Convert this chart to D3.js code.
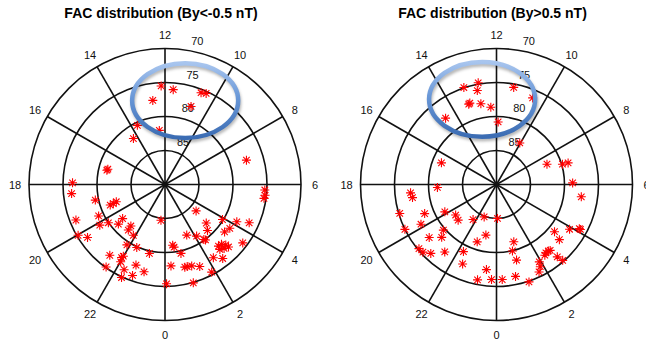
<!DOCTYPE html>
<html>
<head>
<meta charset="utf-8">
<script src="https://cdn.jsdelivr.net/npm/d3@7"></script>
<style>
  body { margin: 0; background: #fff; }
  svg { display: block; font-family: "Liberation Sans", Arial, sans-serif; }
</style>
</head>
<body>
<div id="chart"></div>
<script>
// panel titles
const titles = ["FAC distribution (By<-0.5 nT)", "FAC distribution (By>0.5 nT)"];

// grid: magnetic local time spokes and latitude rings
const hourTicks = [0, 2, 4, 6, 8, 10, 12, 14, 16, 18, 20, 22];
const latRings = [85, 80, 75, 70];

// FAC events [MLT, MLAT] for By < -0.5 nT
const byNegPoints = [
  [12.15, 75.5], [11.67, 76.0], [10.57, 75.5], [10.38, 75.3], [12.55, 77.5], [10.77, 77.9],
  [13.67, 80.4], [12.4, 82.0], [14.3, 81.8], [17.08, 81.2], [17.0, 81.3], [7.11, 77.5],
  [17.93, 76.4], [18.37, 76.2], [5.79, 75.3], [5.59, 75.2], [5.47, 75.3],
  [18.84, 79.5], [19.37, 81.4], [19.35, 81.9], [19.3, 82.4], [19.45, 75.9], [19.69, 79.2],
  [20.13, 78.7], [20.27, 79.95], [20.69, 81.0], [20.59, 82.0], [21.41, 81.4], [21.87, 81.2],
  [21.37, 82.1], [20.02, 75.2], [20.29, 76.2], [21.85, 79.5], [22.39, 79.85], [23.15, 79.6],
  [21.47, 76.8], [21.95, 77.5], [21.99, 77.8], [22.01, 76.9], [21.63, 75.1], [22.29, 76.1],
  [22.68, 77.4], [23.1, 76.8], [22.69, 75.8], [22.33, 74.9],
  [23.57, 84.7], [0.06, 75.4], [3.31, 84.0], [0.48, 81.0], [0.55, 80.7], [0.87, 79.6],
  [0.28, 78.0], [0.9, 77.5], [1.01, 77.5], [1.21, 77.4], [1.53, 76.9], [1.07, 74.95],
  [1.87, 75.4], [2.23, 77.1], [2.53, 76.2], [1.55, 81.9], [2.1, 81.1], [2.35, 80.1],
  [2.41, 79.9], [3.13, 81.7], [2.85, 80.8], [3.91, 80.1], [3.43, 78.8], [3.73, 78.5],
  [4.17, 78.1], [4.37, 76.4], [3.54, 75.7],
  [2.73, 78.0], [2.89, 77.9], [3.01, 77.4], [2.68, 77.5], [2.85, 77.2], [3.03, 76.9]
];

// FAC events [MLT, MLAT] for By > 0.5 nT
const byPosPoints = [
  [12.68, 74.8], [13.24, 74.95], [12.77, 75.9], [11.33, 75.5], [10.49, 76.2], [13.21, 77.4],
  [13.27, 77.5], [12.73, 77.9], [12.28, 78.6], [14.5, 77.7], [11.9, 80.8], [10.05, 83.0],
  [16.57, 81.3], [7.46, 82.0], [7.14, 79.85], [7.12, 79.0], [6.08, 78.8], [5.45, 77.4],
  [18.19, 81.3], [18.37, 77.3], [18.59, 77.5], [19.11, 75.15], [19.47, 78.6], [19.85, 77.45],
  [19.86, 81.4], [20.45, 82.5], [20.86, 82.3], [21.75, 83.8], [22.61, 84.9], [0.11, 85.0],
  [19.74, 75.0], [20.71, 79.7], [20.55, 77.4], [20.93, 78.8], [23.21, 82.4], [22.76, 81.1],
  [20.64, 75.2], [20.84, 75.3], [21.09, 76.0], [21.5, 77.5], [22.25, 79.0], [22.46, 77.3],
  [23.55, 77.4], [23.25, 75.7], [23.8, 76.0], [0.23, 76.0], [0.78, 76.2], [1.23, 74.9],
  [1.12, 81.2], [0.9, 79.95], [0.99, 78.5], [1.93, 77.0], [1.87, 76.3], [1.73, 75.7],
  [2.39, 77.6], [2.53, 77.6], [2.61, 77.5], [2.29, 77.4], [3.39, 79.0], [3.25, 77.7],
  [2.67, 76.1], [2.74, 75.2], [3.9, 77.4], [4.13, 76.2], [4.12, 76.0]
];

// highlighted region [MLT, MLAT] of ellipse centre, with half widths in degrees
const highlights = [
  {mlt: 11.1, lat: 77.3, rx: 7.8, ry: 5.5},
  {mlt: 12.64, lat: 77.3, rx: 7.8, ry: 5.5}
];

const width = 646, height = 344;
const R = 136;
const centers = [[165, 184.5], [496.5, 184.5]];

const svg = d3.select("#chart").append("svg")
    .attr("width", width)
    .attr("height", height);

const defs = svg.append("defs");
const grad = defs.append("linearGradient")
    .attr("id", "ringGrad")
    .attr("x1", 0).attr("y1", 0).attr("x2", 0).attr("y2", 1);
grad.append("stop").attr("offset", "0%").attr("stop-color", "#a8c5ee");
grad.append("stop").attr("offset", "45%").attr("stop-color", "#6a98d8");
grad.append("stop").attr("offset", "100%").attr("stop-color", "#3b6cb3");
defs.append("filter").attr("id", "blur")
    .append("feGaussianBlur").attr("stdDeviation", 1.5);

// scales
const rScale = d3.scaleLinear().domain([90, 70]).range([0, R]);
const aScale = d3.scaleLinear().domain([0, 24]).range([0, 2 * Math.PI]);

const px = (mlt, lat) => rScale(lat) * Math.sin(aScale(mlt));
const py = (mlt, lat) => rScale(lat) * Math.cos(aScale(mlt));

const star = d3.symbol().type({
    draw(ctx, size) {
        const s = Math.sqrt(size) / 2, d = s * 0.72;
        ctx.moveTo(-s, 0); ctx.lineTo(s, 0);
        ctx.moveTo(0, -s); ctx.lineTo(0, s);
        ctx.moveTo(-d, -d); ctx.lineTo(d, d);
        ctx.moveTo(-d, d); ctx.lineTo(d, -d);
    }
}).size(81);

function drawPanel(i, points) {
    const [cx, cy] = centers[i];
    const g = svg.append("g").attr("transform", `translate(${cx},${cy})`);

    // title
    g.append("text")
        .attr("x", -4).attr("y", -167)
        .attr("text-anchor", "middle")
        .attr("font-size", 14).attr("font-weight", "bold")
        .text(titles[i]);

    // rings
    g.selectAll(".ring").data(latRings).enter().append("circle")
        .attr("r", d => rScale(d))
        .attr("fill", "none").attr("stroke", "#111").attr("stroke-width", 1.6);

    // spokes
    g.selectAll(".spoke").data(hourTicks).enter().append("line")
        .attr("x1", 0).attr("y1", 0)
        .attr("x2", d => px(d, 70)).attr("y2", d => py(d, 70))
        .attr("stroke", "#111").attr("stroke-width", 1.6);
    g.append("circle").attr("r", 2.5).attr("fill", "#111");

    // hour labels
    g.selectAll(".hour").data(hourTicks).enter().append("text")
        .attr("x", d => (rScale(70) + 14) * Math.sin(aScale(d)))
        .attr("y", d => (rScale(70) + 14) * Math.cos(aScale(d)))
        .attr("text-anchor", "middle").attr("dominant-baseline", "central")
        .attr("font-size", 11).attr("fill", "#111")
        .text(d => d);

    // latitude labels
    const tilt = 8 * Math.PI / 180;
    g.selectAll(".lat").data(latRings).enter().append("text")
        .attr("x", d => rScale(d) * Math.sin(tilt) + 13.4)
        .attr("y", d => -rScale(d) * Math.cos(tilt) - 8.9)
        .attr("text-anchor", "middle").attr("dominant-baseline", "central")
        .attr("font-size", 11).attr("fill", "#111")
        .text(d => d);

    // events
    g.selectAll(".pt").data(points).enter().append("path")
        .attr("d", star)
        .attr("transform", d => `translate(${px(d[0], d[1])},${py(d[0], d[1])})`)
        .attr("fill", "none").attr("stroke", "#ff0000").attr("stroke-width", 1.1);

    // highlight ellipse
    const h = highlights[i];
    const ex = px(h.mlt, h.lat), ey = py(h.mlt, h.lat);
    const erx = rScale(90 - h.rx), ery = rScale(90 - h.ry);
    g.append("ellipse")
        .attr("cx", ex + 1).attr("cy", ey + 2.5)
        .attr("rx", erx).attr("ry", ery)
        .attr("fill", "none").attr("stroke", "rgba(0,0,0,0.3)").attr("stroke-width", 4)
        .attr("filter", "url(#blur)");
    g.append("ellipse")
        .attr("cx", ex).attr("cy", ey)
        .attr("rx", erx).attr("ry", ery)
        .attr("fill", "none").attr("stroke", "url(#ringGrad)").attr("stroke-width", 4.5);
}

drawPanel(0, byNegPoints);
drawPanel(1, byPosPoints);
</script>
</body>
</html>
